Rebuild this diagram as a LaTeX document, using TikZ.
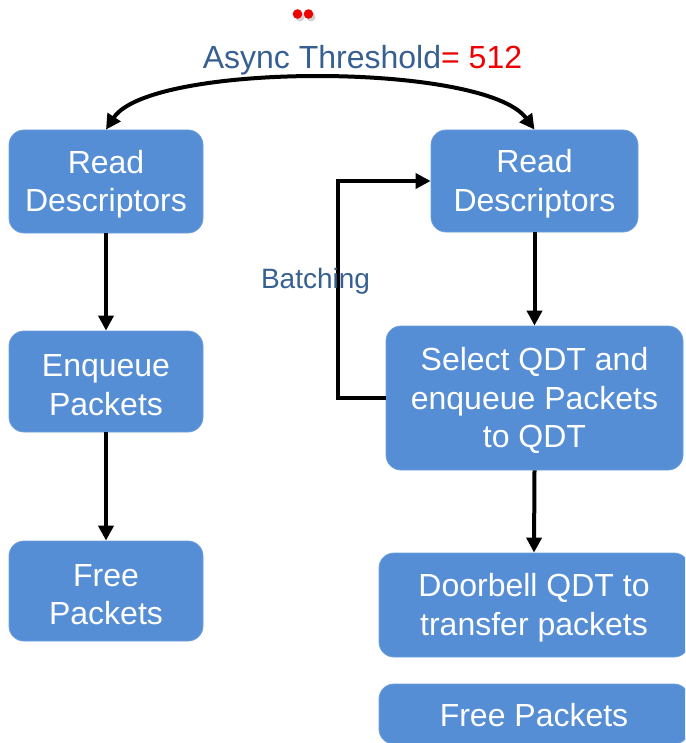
\documentclass[tikz,border=0pt]{standalone}
\usepackage{fontspec}
\setmainfont{Liberation Sans}
\usetikzlibrary{arrows.meta}
\definecolor{boxblue}{RGB}{85,142,213}
\definecolor{labelblue}{RGB}{55,96,146}
\definecolor{dotred}{RGB}{240,0,0}
\newcommand{\topstrut}{\rule{0pt}{29pt}}
\newcommand{\botstrut}{\rule[-0.5pt]{0pt}{0.5pt}}
\newcommand{\onestrut}{\rule[-2.5pt]{0pt}{29.5pt}}
\begin{document}
\begin{tikzpicture}[x=1pt,y=-1pt,
  box/.style={rectangle,rounded corners=15pt,fill=boxblue,draw=boxblue!85!white,line width=0.8pt,
    text=white,align=center,inner sep=0pt,font=\fontsize{32}{38.5}\selectfont},
  arr/.style={line width=4pt,draw=black,-{Triangle[length=15pt,width=15pt]}},
  darr/.style={line width=4pt,draw=black,{Triangle[length=15pt,width=15pt]}-{Triangle[length=15pt,width=15pt]}},
  lbl/.style={inner sep=0pt,text=labelblue}]
\useasboundingbox (0,0) rectangle (685,743);
\clip (0,0) rectangle (685,743);
\node[box,minimum width=194pt,minimum height=103pt] (L1) at (106,181.5) {\topstrut Read\\Descriptors\botstrut};
\node[box,minimum width=194pt,minimum height=101pt] (L2) at (106,381.5) {\topstrut Enqueue\\Packets\botstrut};
\node[box,minimum width=194pt,minimum height=100pt] (L3) at (106,591) {\topstrut Free\\Packets\botstrut};
\node[box,minimum width=207pt,minimum height=102pt] (R1) at (534.5,181) {\topstrut Read\\Descriptors\botstrut};
\node[box,minimum width=297pt,minimum height=144pt] (R2) at (534.5,398) {\topstrut Select QDT and\\enqueue Packets\\to QDT\botstrut};
\node[box,minimum width=310pt,minimum height=104pt] (R3) at (534,605) {\topstrut Doorbell QDT to\\transfer packets\botstrut};
\node[box,minimum width=310pt,minimum height=60pt] (R4) at (534,714) {\onestrut Free Packets};
\draw[arr] (L1.south) -- (L2.north);
\draw[arr] (L2.south) -- (L3.north);
\draw[arr] (R1.south) -- (R2.north);
\draw[arr] (R2.south) -- (R3.north);
\draw[arr] (R2.west) -- ++(-48,0) |- (R1.west);
\node[lbl,font=\fontsize{28}{32}\selectfont] (batch) at (315.5,281) {Batching};
\draw[darr] (L1.north) .. controls (150,62) and (485,62) .. (R1.north);
\node[lbl,font=\fontsize{32}{36}\selectfont] (async) at (362.5,60) {Async Threshold\textcolor{dotred}{= 512}};
\fill[gray!35] (300,17) circle (4.5);
\fill[gray!35] (311,17) circle (4.5);
\fill[dotred] (297.5,14) circle (4.8) coordinate (d1);
\fill[dotred] (308.5,14) circle (4.8) coordinate (d2);
\end{tikzpicture}
\end{document}
